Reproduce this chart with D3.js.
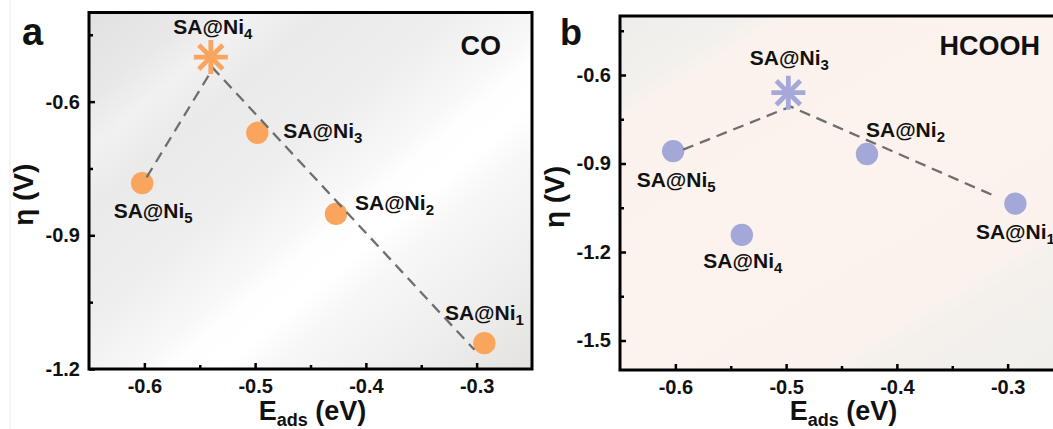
<!DOCTYPE html>
<html><head><meta charset="utf-8">
<script src="https://cdn.jsdelivr.net/npm/d3@7"></script>
<style>
body{margin:0;background:#fff}
svg{display:block}
text{font-family:"Liberation Sans",Arial,sans-serif;font-weight:bold;fill:#111}
</style>
</head><body><svg id="c" width="1053" height="429"></svg>
<script>
// ---------------- data ----------------
const sites = [1, 2, 3, 4, 5];                       // SA@Ni_n
const eads = [-0.293, -0.427, -0.498, -0.540, -0.602];
const etaCO = [-1.142, -0.852, -0.670, -0.500, -0.783];
const etaHCOOH = [-1.036, -0.868, -0.660, -1.142, -0.858];
const xTicks = [-0.6, -0.5, -0.4, -0.3];
const xMinor = [-0.55, -0.45, -0.35];
const coYTicks = [-1.2, -0.9, -0.6];
const coYMinor = [-1.05, -0.75, -0.45];
const hcYTicks = [-1.5, -1.2, -0.9, -0.6];
const hcYMinor = [-1.35, -1.05, -0.75, -0.45];
const coLineX = [-0.598, -0.538, -0.302];
const coLineY = [-0.770, -0.525, -1.157];
const hcLineX = [-0.593, -0.496, -0.310];
const hcLineY = [-0.853, -0.707, -1.013];
const coStarSite = 4, hcStarSite = 3;

// ---------------- layout / style ----------------
const svg = d3.select('#c');
const defs = svg.append('defs');

function grad(id, x1, y1, x2, y2, stops) {
  const g = defs.append('linearGradient').attr('id', id).attr('gradientUnits', 'userSpaceOnUse')
    .attr('x1', x1).attr('y1', y1).attr('x2', x2).attr('y2', y2);
  stops.forEach(s => g.append('stop').attr('offset', s[0]).attr('stop-color', s[1]));
}
grad('bgA', 89, 12.5, 449, 439, [[0, '#e1e1e1'], [0.12, '#e8e8e8'], [0.19, '#f1f1f1'], [0.27, '#eaeaea'],
  [0.42, '#eeeeee'], [0.54, '#f8f8f8'], [0.58, '#fefefe'], [0.64, '#ffffff'], [0.7, '#f7f7f7'],
  [0.85, '#eeeeee'], [1, '#e3e2e0']]);
grad('bgB', 620, 16, 901, 470, [[0, '#eeede9'], [0.13, '#f3f1ed'], [0.17, '#fbf2ee'], [0.5, '#fcf3ef'],
  [0.76, '#fbf2ee'], [0.8, '#f4f1ed'], [1, '#f1efeb']]);

const panels = [
  {letter: 'a', product: 'CO', eta: etaCO, yDomain: [-1.2, -0.4], yTicks: coYTicks, yMinor: coYMinor,
   lx: coLineX, ly: coLineY, star: coStarSite, fill: 'url(#bgA)',
   box: {x0: 89, x1: 532, y0: 12.5, y1: 369}, color: '#f9a55e', starColor: '#f9a45f',
   letterPos: [22, 45], letterSize: 38, productPos: [501, 55], productSize: 27, ytitleX: 33,
   labels: {1: [0, -23, 'middle'], 2: [19, -4, 'start'], 3: [26, 5, 'start'], 4: [2, -23, 'middle'], 5: [11, 35, 'middle']}},
  {letter: 'b', product: 'HCOOH', eta: etaHCOOH, yDomain: [-1.6, -0.4], yTicks: hcYTicks, yMinor: hcYMinor,
   lx: hcLineX, ly: hcLineY, star: hcStarSite, fill: 'url(#bgB)',
   box: {x0: 620, x1: 1063, y0: 16, y1: 370}, color: '#a4a8d8', starColor: '#a5a9da',
   letterPos: [560, 45], letterSize: 36, productPos: [1040, 55], productSize: 27, ytitleX: 564,
   labels: {1: [0, 35, 'middle'], 2: [-1, -17, 'start'], 3: [1, -28, 'middle'], 4: [1, 33, 'middle'], 5: [3, 36, 'middle']}}
];

// faint crop line at far left
svg.append('line').attr('x1', 10).attr('x2', 10).attr('y1', 0).attr('y2', 429)
  .attr('stroke', '#ececec').attr('stroke-width', 1);

panels.forEach(p => {
  const b = p.box;
  const x = d3.scaleLinear().domain([-0.65, -0.25]).range([b.x0, b.x1]);
  const y = d3.scaleLinear().domain(p.yDomain).range([b.y1, b.y0]);
  const g = svg.append('g');

  g.append('rect').attr('x', b.x0).attr('y', b.y0).attr('width', b.x1 - b.x0).attr('height', b.y1 - b.y0)
    .attr('fill', p.fill);

  // minor ticks
  const mx = g.append('g').attr('transform', `translate(0,${b.y1})`)
    .call(d3.axisBottom(x).tickValues(xMinor).tickSize(-4).tickFormat(''));
  const my = g.append('g').attr('transform', `translate(${b.x0},0)`)
    .call(d3.axisLeft(y).tickValues(p.yMinor).tickSize(-4).tickFormat(''));
  [mx, my].forEach(a => { a.select('.domain').remove(); a.selectAll('line').attr('stroke', '#000').attr('stroke-width', 2.5); });

  // major ticks
  const ax = g.append('g').attr('transform', `translate(0,${b.y1})`)
    .call(d3.axisBottom(x).tickValues(xTicks).tickSize(-6).tickPadding(10).tickFormat(d => d.toFixed(1)));
  const ay = g.append('g').attr('transform', `translate(${b.x0},0)`)
    .call(d3.axisLeft(y).tickValues(p.yTicks).tickSize(-6).tickPadding(9).tickFormat(d => d.toFixed(1)));
  [ax, ay].forEach(a => {
    a.select('.domain').remove();
    a.attr('font-family', null).attr('font-size', 20);
    a.selectAll('line').attr('stroke', '#000').attr('stroke-width', 2.5);
    a.selectAll('text').attr('fill', '#111');
  });

  // frame
  g.append('rect').attr('x', b.x0).attr('y', b.y0).attr('width', b.x1 - b.x0).attr('height', b.y1 - b.y0)
    .attr('fill', 'none').attr('stroke', '#000').attr('stroke-width', 3);

  const pts = sites.map((s, i) => ({s, x: eads[i], y: p.eta[i]}));

  // circles
  g.selectAll('circle.pt').data(pts.filter(d => d.s !== p.star)).join('circle')
    .attr('class', 'pt').attr('cx', d => x(d.x)).attr('cy', d => y(d.y)).attr('r', 11.2)
    .attr('fill', p.color);

  // dashed volcano line
  const lineData = p.lx.map((v, i) => [v, p.ly[i]]);
  g.append('path').attr('d', d3.line().x(d => x(d[0])).y(d => y(d[1]))(lineData))
    .attr('fill', 'none').attr('stroke', '#6e6e6e').attr('stroke-width', 2.3)
    .attr('stroke-dasharray', '11,7');

  // star marker
  const sp = pts.find(d => d.s === p.star);
  const sg = g.append('g').attr('transform', `translate(${x(sp.x)},${y(sp.y)})`);
  [0, 45, 90, 135].forEach(a => {
    const r = 17, t = a * Math.PI / 180;
    sg.append('line').attr('x1', -r * Math.cos(t)).attr('y1', -r * Math.sin(t))
      .attr('x2', r * Math.cos(t)).attr('y2', r * Math.sin(t))
      .attr('stroke', p.starColor).attr('stroke-width', 4.8);
  });

  // point labels
  pts.forEach(d => {
    const o = p.labels[d.s];
    const t = g.append('text').attr('x', x(d.x) + o[0]).attr('y', y(d.y) + o[1])
      .attr('text-anchor', o[2]).attr('font-size', 21);
    t.append('tspan').text('SA@Ni');
    t.append('tspan').attr('font-size', 15).attr('dy', 5).text(d.s);
  });

  // panel letter & product
  svg.append('text').attr('x', p.letterPos[0]).attr('y', p.letterPos[1]).attr('font-size', p.letterSize).text(p.letter);
  svg.append('text').attr('x', p.productPos[0]).attr('y', p.productPos[1]).attr('text-anchor', 'end')
    .attr('font-size', p.productSize).text(p.product);

  // axis titles
  const xt = svg.append('text').attr('x', (b.x0 + b.x1) / 2 + 2).attr('y', 420)
    .attr('text-anchor', 'middle').attr('font-size', 27);
  xt.append('tspan').text('E');
  xt.append('tspan').attr('font-size', 18).attr('dy', 6).text('ads');
  xt.append('tspan').attr('dy', -6).text(' (eV)');

  svg.append('text').attr('transform', `translate(${p.ytitleX},${(b.y0 + b.y1) / 2 + 4}) rotate(-90)`)
    .attr('text-anchor', 'middle').attr('font-size', 28).text('η (V)');
});
</script>
</body></html>
